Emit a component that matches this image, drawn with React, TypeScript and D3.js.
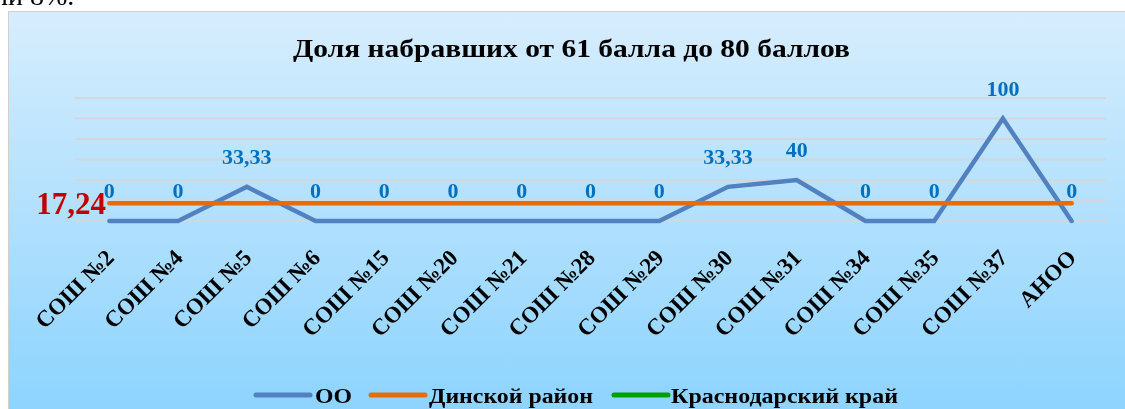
import React from "react";
import * as d3 from "d3";

const categories = ["СОШ №2", "СОШ №4", "СОШ №5", "СОШ №6", "СОШ №15", "СОШ №20", "СОШ №21", "СОШ №28", "СОШ №29", "СОШ №30", "СОШ №31", "СОШ №34", "СОШ №35", "СОШ №37", "АНОО"];
const ooValues = [0, 0, 33.33, 0, 0, 0, 0, 0, 0, 33.33, 40, 0, 0, 100, 0];
const ooLabels = ["0", "0", "33,33", "0", "0", "0", "0", "0", "0", "33,33", "40", "0", "0", "100", "0"];
const districtValue = 17.24;
const districtLabel = "17,24";
const yTicks = [0, 20, 40, 60, 80, 100, 120];
const title = "Доля набравших от 61 балла до 80 баллов";
const legendItems = [
  { name: "ОО", color: "#5181C1" },
  { name: "Динской район", color: "#E46C0A" },
  { name: "Краснодарский край", color: "#00A000" },
];

const W = 1125;
const H = 409;
const FONT = "'Liberation Serif', 'Times New Roman', serif";

export default function App() {
  const x = d3.scalePoint<string>().domain(categories).range([75, 1106]).padding(0.5);
  const y = d3.scaleLinear().domain([0, 120]).range([221, 98]);
  const line = d3
    .line<number>()
    .x((_, i) => x(categories[i]) as number)
    .y((d) => y(d));
  const x0 = x(categories[0]) as number;
  const x1 = x(categories[categories.length - 1]) as number;

  const legendLayout = [
    { sx: 256, tx: 315, tl: 37 },
    { sx: 371, tx: 429, tl: 164 },
    { sx: 614, tx: 671, tl: 227 },
  ];

  return (
    <svg
      width={W}
      height={H}
      style={{ position: "fixed", left: 0, top: 0, display: "block" }}
      fontFamily={FONT}
    >
      <defs>
        <linearGradient id="bg" x1="0" y1="0" x2="0" y2="1">
          <stop offset="0%" stopColor="#D7EDFD" />
          <stop offset="100%" stopColor="#8BD3FE" />
        </linearGradient>
      </defs>
      <rect x={0} y={0} width={W} height={H} fill="#fff" />
      <text x={-6} y={5} fontSize={28} fill="#000" fontFamily={FONT}>ли 8%.</text>
      <rect x={8.5} y={11.5} width={W} height={H} fill="url(#bg)" stroke="#D0D0D0" strokeWidth={1} />

      <text
        x={293}
        y={57}
        fontSize={26}
        fontWeight="bold"
        fill="#000"
        textLength={557}
        lengthAdjust="spacingAndGlyphs"
      >
        {title}
      </text>

      {yTicks.map((t) => (
        <line key={t} x1={75} x2={1106} y1={y(t)} y2={y(t)} stroke="#D3D6DA" strokeWidth={2} />
      ))}

      <path d={line(ooValues) || ""} fill="none" stroke="#5181C1" strokeWidth={4.5} strokeLinejoin="miter" strokeLinecap="round" />
      <line x1={x0} x2={x1} y1={y(districtValue)} y2={y(districtValue)} stroke="#E46C0A" strokeWidth={4.5} strokeLinecap="round" />

      {ooValues.map((v, i) => (
        <text
          key={i}
          x={x(categories[i]) as number}
          y={y(v) - 23}
          textAnchor="middle"
          fontSize={22}
          fontWeight="bold"
          fill="#0070C0"
        >
          {ooLabels[i]}
        </text>
      ))}
      <text x={106} y={y(districtValue) + 11} textAnchor="end" fontSize={31} fontWeight="bold" fill="#C00000">
        {districtLabel}
      </text>

      {categories.map((c) => {
        const cx = (x(c) as number) + 6;
        const cy = 259;
        return (
          <text
            key={c}
            x={cx}
            y={cy}
            transform={`rotate(-45 ${cx} ${cy})`}
            textAnchor="end"
            fontSize={23}
            fontWeight="bold"
            fill="#000"
          >
            {c}
          </text>
        );
      })}

      {legendItems.map((it, i) => (
        <g key={it.name}>
          <line
            x1={legendLayout[i].sx}
            x2={legendLayout[i].sx + 54}
            y1={395}
            y2={395}
            stroke={it.color}
            strokeWidth={5}
            strokeLinecap="round"
          />
          <text
            x={legendLayout[i].tx}
            y={403}
            fontSize={22}
            fontWeight="bold"
            fill="#000"
            textLength={legendLayout[i].tl}
            lengthAdjust="spacingAndGlyphs"
          >
            {it.name}
          </text>
        </g>
      ))}
    </svg>
  );
}
